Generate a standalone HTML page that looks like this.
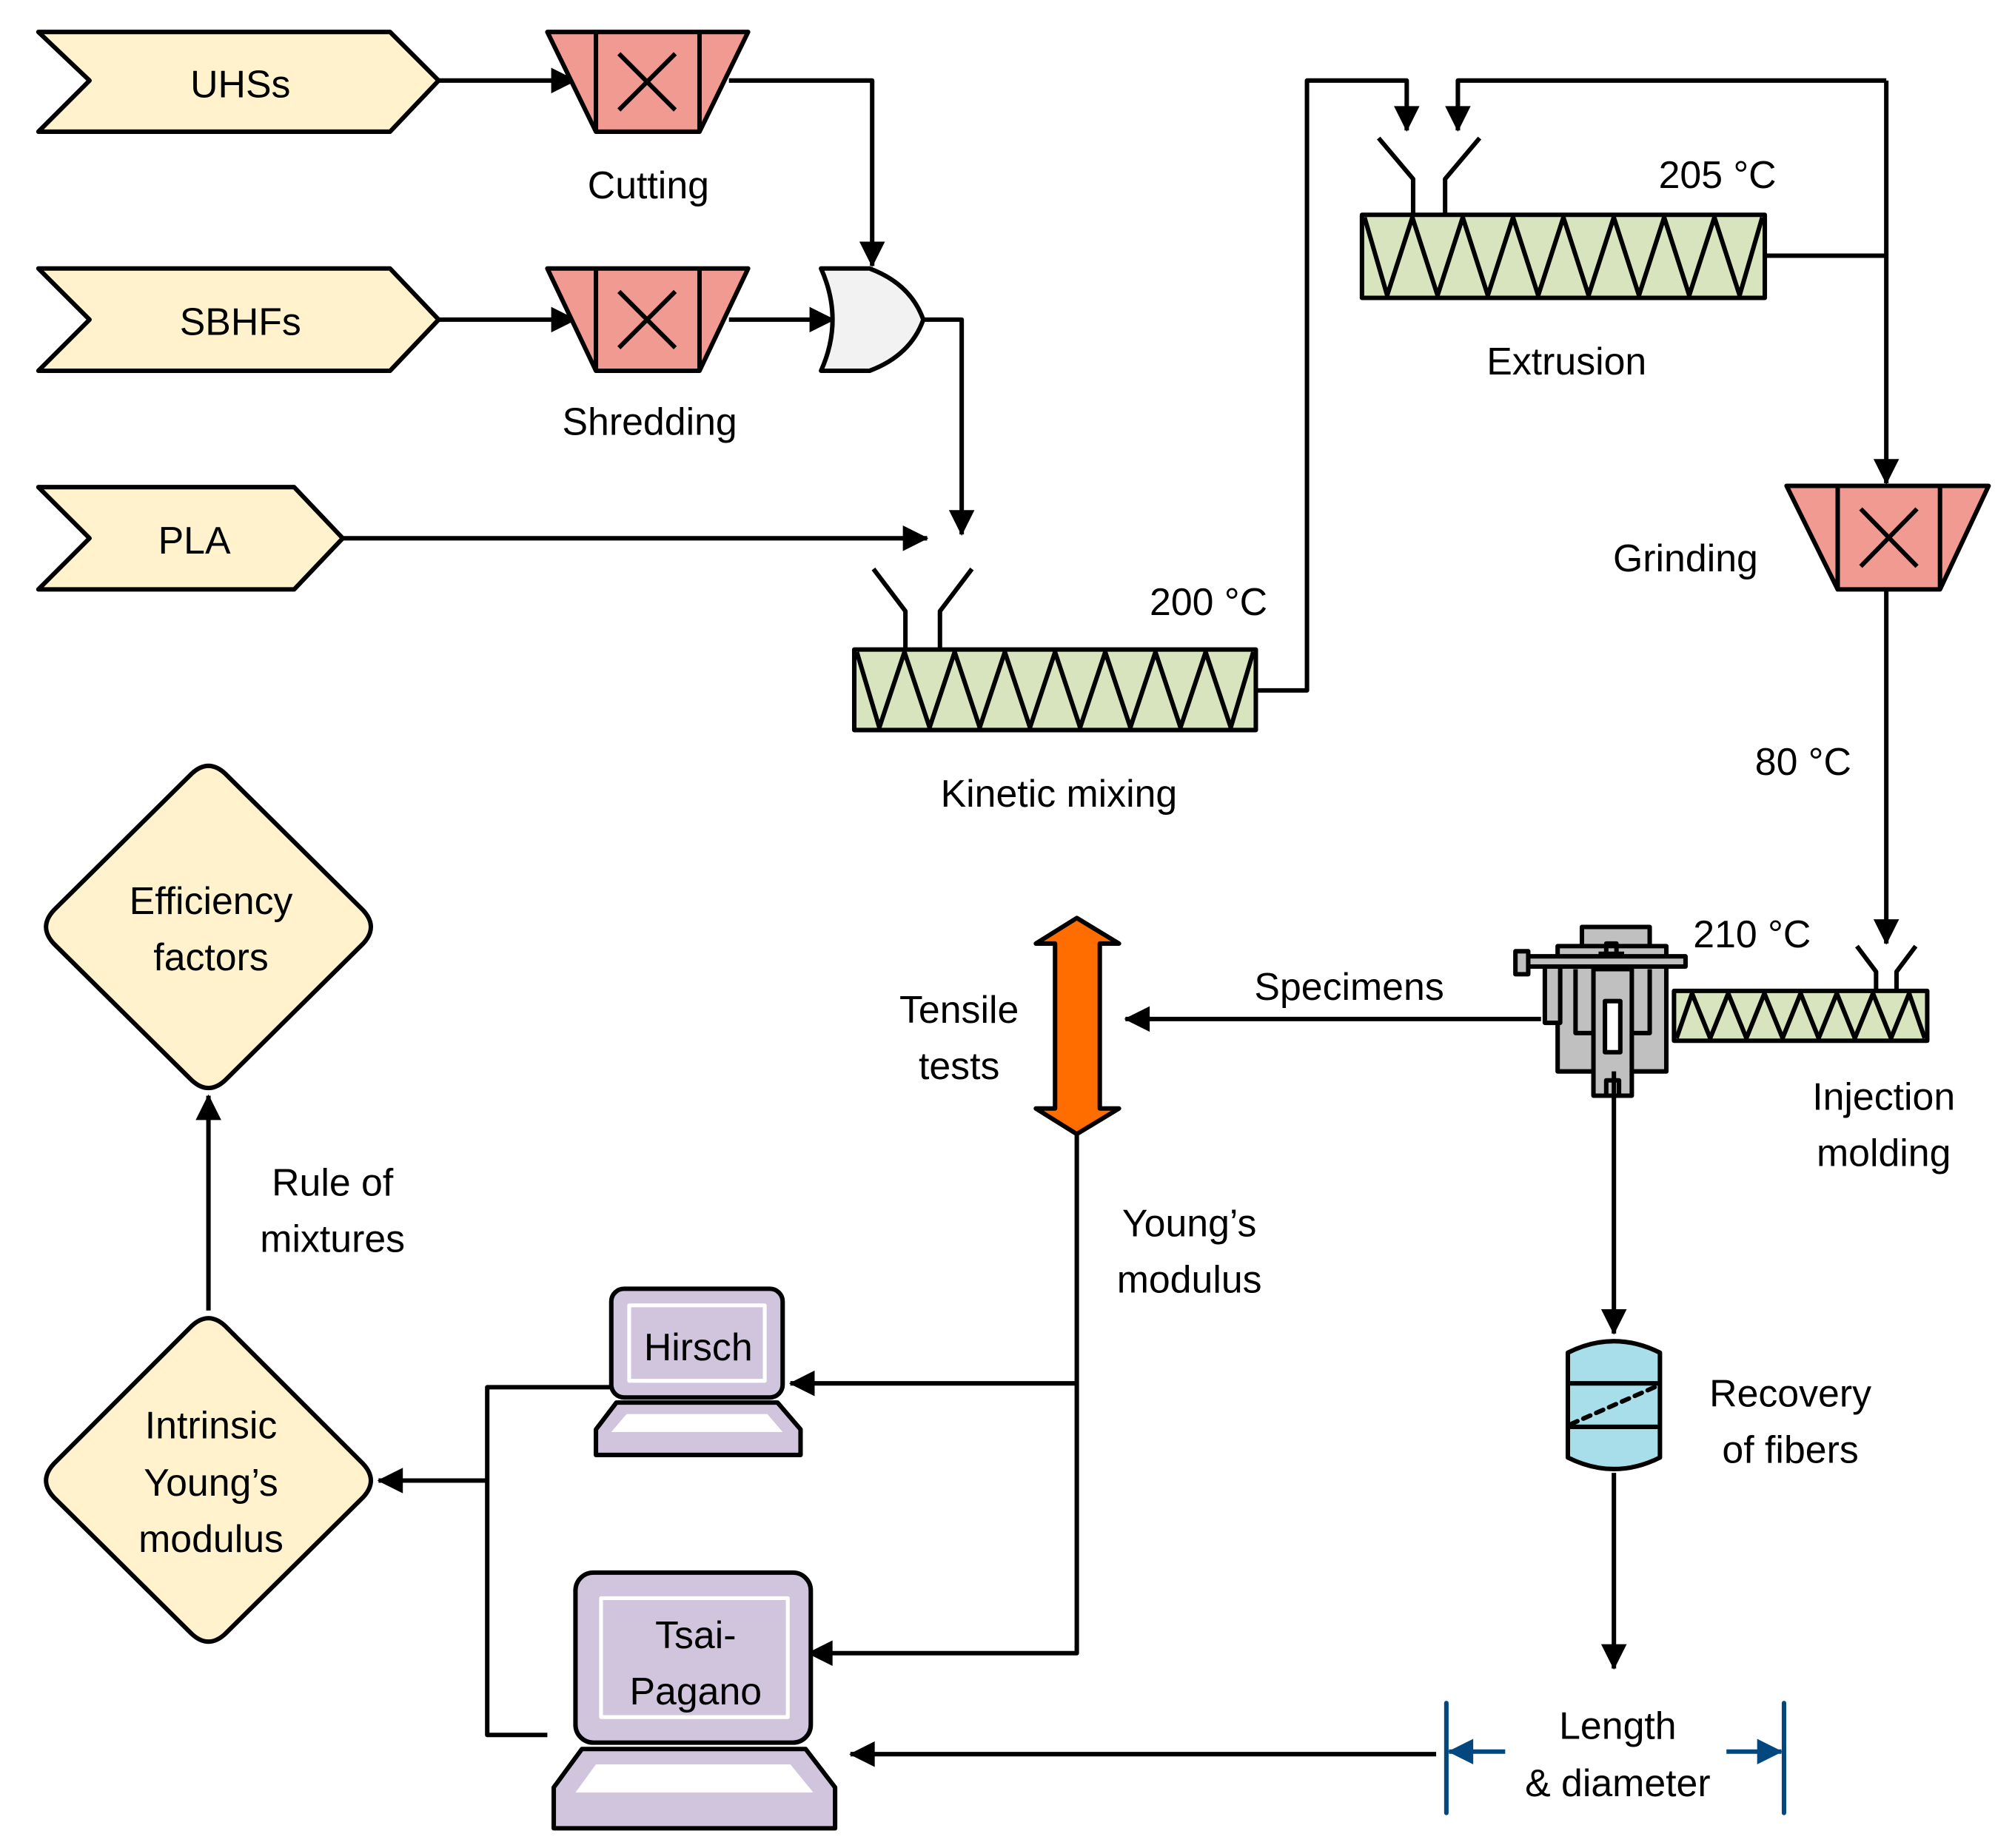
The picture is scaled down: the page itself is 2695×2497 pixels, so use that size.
<!DOCTYPE html>
<html><head><meta charset="utf-8"><style>
html,body{margin:0;padding:0;background:#fff}
svg{display:block}
text{font-family:"Liberation Sans",sans-serif;font-size:30px;fill:#000;text-anchor:middle}
</style></head><body>
<svg width="2695" height="2497" viewBox="0 0 1560 1445.4" preserveAspectRatio="none" xmlns="http://www.w3.org/2000/svg">
<defs>
<marker id="a" viewBox="0 0 20 20" refX="19" refY="10" markerWidth="20" markerHeight="20" markerUnits="userSpaceOnUse" orient="auto" overflow="visible">
<path d="M0,0 L20,10 L0,20 Z" fill="#000"/>
</marker>
<marker id="b" viewBox="0 0 20 20" refX="19" refY="10" markerWidth="20" markerHeight="20" markerUnits="userSpaceOnUse" orient="auto" overflow="visible">
<path d="M0,0 L20,10 L0,20 Z" fill="#03477F"/>
</marker>
</defs>
<g stroke="#000" stroke-width="3.5" fill="none" stroke-linejoin="round">
<polygon points="30,25 305,25 343,63 305,103 30,103 70,63" fill="#FFF2CC"/>
<polygon points="30,210 305,210 343,250 305,290 30,290 70,250" fill="#FFF2CC"/>
<polygon points="30,381 230,381 268,421 230,461 30,461 70,421" fill="#FFF2CC"/>

<path d="M343,63 H450" marker-end="url(#a)"/>
<path d="M343,250 H450" marker-end="url(#a)"/>
<path d="M268,421 H725" marker-end="url(#a)"/>

<polygon points="428,25 585,25 547,103 466,103" fill="#F09A92"/>
<path d="M466,25 V103 M547,25 V103 M484,42 L528,86 M528,42 L484,86"/>
<polygon points="428,210 585,210 547,290 466,290" fill="#F09A92"/>
<path d="M466,210 V290 M547,210 V290 M484,228 L528,272 M528,228 L484,272"/>

<path d="M570,63 H682 V208" marker-end="url(#a)"/>
<path d="M570,250 H652" marker-end="url(#a)"/>
<path d="M642,210 H680 Q712,222 722,250 Q712,278 680,290 H642 Q660,250 642,210 Z" fill="#F2F2F2"/>
<path d="M722,250 H752 V418" marker-end="url(#a)"/>

<path d="M683,445 L708,478 V508 M760,445 L735,478 V508"/>
<rect x="668" y="508" width="314" height="63" fill="#D7E4BD"/>
<polyline points="670,510 687.6,569 707.25,510 726.9,569 746.5,510 766.1,569 785.75,510 805.4,569 825,510 844.6,569 864.25,510 883.9,569 903.5,510 923.1,569 942.75,510 962.4,569 980,510"/>
<path d="M982,540 H1022 V63 H1100 V102" marker-end="url(#a)"/>

<path d="M1078,108 L1105,140 V168 M1157,108 L1130,140 V168"/>
<rect x="1065" y="168" width="315" height="65" fill="#D7E4BD"/>
<polyline points="1067,170 1084.7,231 1104.4,170 1124.1,231 1143.8,170 1163.4,231 1183.1,170 1202.8,231 1222.5,170 1242.2,231 1261.9,170 1281.6,231 1301.3,170 1320.9,231 1340.6,170 1360.3,231 1378,170"/>
<path d="M1475,63 H1140 V102" marker-end="url(#a)"/>
<path d="M1380,200 H1475"/>
<path d="M1475,63 V378" marker-end="url(#a)"/>

<polygon points="1397,380 1555,380 1517,461 1437,461" fill="#F09A92"/>
<path d="M1437,380 V461 M1517,380 V461 M1455,398 L1499,443 M1499,398 L1455,443"/>
<path d="M1475,461 V738" marker-end="url(#a)"/>

<path d="M1452,740 L1467,760 V775 M1498,740 L1483,760 V775"/>
<rect x="1309" y="775" width="198" height="39" fill="#D7E4BD"/>
<polyline points="1311,812 1323.1,777 1337.3,812 1351.4,777 1365.6,812 1379.7,777 1393.9,812 1408,777 1422.1,812 1436.3,777 1450.4,812 1464.6,777 1478.7,812 1492.9,777 1505,812"/>

<rect x="1237" y="725" width="53" height="20" fill="#C0C0C0"/>
<rect x="1218" y="740" width="85" height="98" fill="#C0C0C0"/>
<rect x="1208" y="752" width="12" height="48" fill="#C0C0C0"/>
<path d="M1232,758 V808 H1290 V758"/>
<rect x="1246" y="758" width="30" height="99" fill="#C0C0C0"/>
<path d="M1256,857 V845 H1266 V857"/>
<rect x="1255" y="783" width="12" height="40" fill="#fff"/>
<rect x="1187" y="748" width="131" height="8" fill="#C0C0C0"/>
<rect x="1185" y="744" width="10" height="18" fill="#C0C0C0"/>
<path d="M1256,746 V738 H1264 V746 M1250,746 H1270"/>

<path d="M1205,797 H880" marker-end="url(#a)"/>

<polygon points="842,718 875,738 860,738 860,867 875,867 842,887 810,867 825,867 825,738 810,738" fill="#FF6D00"/>

<path d="M842,887 V1293 H632" marker-end="url(#a)"/>
<path d="M842,1082 H618" marker-end="url(#a)"/>

<rect x="478" y="1008" width="134" height="85" rx="10" fill="#D1C4DD"/>
<rect x="492" y="1021" width="106" height="59" fill="#D1C4DD" stroke="#fff" stroke-width="3"/>
<polygon points="482,1097 608,1097 626,1118 626,1138 466,1138 466,1118" fill="#D1C4DD"/>
<polygon points="490,1106 600,1106 612,1120 478,1120" fill="#fff" stroke="none"/>

<rect x="450" y="1230" width="184" height="133" rx="14" fill="#D1C4DD"/>
<rect x="470" y="1250" width="146" height="93" fill="#D1C4DD" stroke="#fff" stroke-width="3"/>
<polygon points="455,1368 630,1368 653,1398 653,1430 433,1430 433,1398" fill="#D1C4DD"/>
<polygon points="466,1380 618,1380 636,1402 450,1402" fill="#fff" stroke="none"/>

<path d="M478,1085 H381 V1357 H428"/>
<path d="M381,1158 H296" marker-end="url(#a)"/>

<path d="M150,1037 Q163,1025 176,1037 L284,1145 Q296,1158 284,1171 L176,1278 Q163,1290 150,1278 L42,1171 Q30,1158 42,1145 Z" fill="#FFF2CC"/>
<path d="M150,605 Q163,593 176,605 L284,712 Q296,725 284,738 L176,845 Q163,857 150,845 L42,738 Q30,725 42,712 Z" fill="#FFF2CC"/>
<path d="M163,1025 V857" marker-end="url(#a)"/>

<path d="M1262,838 V1043" marker-end="url(#a)"/>
<path d="M1226,1058 Q1262,1040 1298,1058 V1140 Q1262,1158 1226,1140 Z" fill="#A8DEE9"/>
<path d="M1226,1082 H1298 M1226,1116 H1298"/>
<path d="M1228,1114 L1296,1084" stroke-dasharray="6,5" stroke-linecap="round"/>
<path d="M1262,1152 V1305" marker-end="url(#a)"/>

<g stroke="#03477F">
<path d="M1131,1332 V1418 M1395,1332 V1418" stroke-linecap="round"/>
<path d="M1177,1370 H1133" marker-end="url(#b)"/>
<path d="M1350,1370 H1393" marker-end="url(#b)"/>
</g>
<path d="M1123,1372 H665" marker-end="url(#a)"/>
</g>

<text x="188" y="76">UHSs</text>
<text x="188" y="262">SBHFs</text>
<text x="152" y="433">PLA</text>
<text x="507" y="155">Cutting</text>
<text x="508" y="340">Shredding</text>
<text x="945" y="481">200 °C</text>
<text x="828" y="631">Kinetic mixing</text>
<text x="1343" y="147">205 °C</text>
<text x="1225" y="293">Extrusion</text>
<text x="1318" y="447">Grinding</text>
<text x="1410" y="606">80 °C</text>
<text x="1370" y="741">210 °C</text>
<text x="1473" y="868">Injection</text>
<text x="1473" y="912">molding</text>
<text x="1055" y="782">Specimens</text>
<text x="750" y="800">Tensile</text>
<text x="750" y="844">tests</text>
<text x="930" y="967">Young’s</text>
<text x="930" y="1011">modulus</text>
<text x="260" y="935">Rule of</text>
<text x="260" y="979">mixtures</text>
<text x="165" y="715">Efficiency</text>
<text x="165" y="759">factors</text>
<text x="165" y="1125">Intrinsic</text>
<text x="165" y="1170">Young’s</text>
<text x="165" y="1214">modulus</text>
<text x="546" y="1064">Hirsch</text>
<text x="544" y="1289">Tsai-</text>
<text x="544" y="1333">Pagano</text>
<text x="1400" y="1100">Recovery</text>
<text x="1400" y="1144">of fibers</text>
<text x="1265" y="1360">Length</text>
<text x="1265" y="1405">&amp; diameter</text>
</svg>
</body></html>
